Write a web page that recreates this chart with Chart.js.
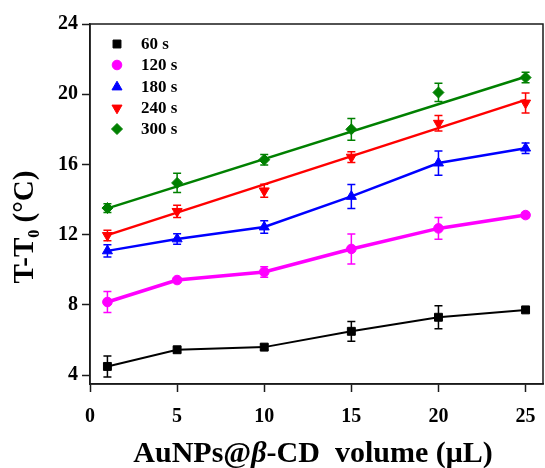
<!DOCTYPE html>
<html>
<head>
<meta charset="utf-8">
<script src="https://cdn.jsdelivr.net/npm/chart.js@4.4.1/dist/chart.umd.min.js"></script>
<style>
  html, body { margin: 0; padding: 0; background: #fff; }
  #wrap { width: 545px; height: 468px; position: relative; }
</style>
</head>
<body>
<div id="wrap"><canvas id="myChart"></canvas></div>
<script>
// AuNPs@b-CD volume (uL)
const volumes = [1, 5, 10, 15, 20, 25];
const seriesNames = ['60 s', '120 s', '180 s', '240 s', '300 s'];

// T - T0 (C) for each irradiation time
const temp60  = [4.50, 5.45, 5.60, 6.50, 7.30, 7.72];
const temp120 = [8.17, 9.42, 9.88, 11.19, 12.36, 13.12];
const temp180 = [11.08, 11.76, 12.44, 14.18, 16.08, 16.93];
const temp240 = [11.96, 13.33, 14.50, 16.42, 18.35, 19.50];
const temp300 = [13.52, 14.95, 16.27, 18.00, 20.10, 20.95];

// error bars (+/-)
const err60  = [0.60, 0.15, 0.15, 0.56, 0.65, 0.12];
const err120 = [0.60, 0.12, 0.30, 0.85, 0.62, 0.15];
const err180 = [0.35, 0.30, 0.35, 0.68, 0.69, 0.30];
const err240 = [0.30, 0.35, 0.37, 0.30, 0.44, 0.57];
const err300 = [0.25, 0.55, 0.30, 0.62, 0.52, 0.30];

// straight fitted lines drawn for 240 s and 300 s
const fitX   = [1, 25];
const fit240 = [11.98, 19.68];
const fit300 = [13.50, 21.00];

const xTicks = [0, 5, 10, 15, 20, 25];
const yTicks = [4, 8, 12, 16, 20, 24];

const serif = "'Liberation Serif', 'Times New Roman', serif";
const axisColor = '#1a1a1a';

function pts(xs, ys) {
    return xs.map((x, i) => ({ x: x, y: ys[i] }));
}

let datasets = [
    { label: seriesNames[0], data: pts(volumes, temp60), errors: err60, color: '#000000',
      pointStyle: 'rect', pointRadius: 5.6, borderWidth: 2, showLine: true, legendRow: 0 },
    { label: seriesNames[1], data: pts(volumes, temp120), errors: err120, color: '#ff00ff',
      pointStyle: 'circle', pointRadius: 4.8, borderWidth: 3.5, showLine: true, legendRow: 1 },
    { label: seriesNames[2], data: pts(volumes, temp180), errors: err180, color: '#0000ff',
      pointStyle: 'triangle', pointRadius: 5.8, borderWidth: 2.5, showLine: true, legendRow: 2 },
    { label: seriesNames[3], data: pts(volumes, temp240), errors: err240, color: '#ff0000',
      pointStyle: 'triangle', pointRotation: 180, pointRadius: 5.8, borderWidth: 2.5, showLine: false, legendRow: 3 },
    { label: seriesNames[4], data: pts(volumes, temp300), errors: err300, color: '#008000',
      pointStyle: 'rectRot', pointRadius: 5.5, borderWidth: 2.5, showLine: false, legendRow: 4 },
    { label: 'fit 240', data: pts(fitX, fit240), color: '#ff0000', pointRadius: 0, borderWidth: 2.5, showLine: true },
    { label: 'fit 300', data: pts(fitX, fit300), color: '#008000', pointRadius: 0, borderWidth: 2.5, showLine: true }
];

datasets = datasets.map(d => Object.assign(d, {
    borderColor: d.color,
    backgroundColor: d.color,
    pointBackgroundColor: d.color,
    pointBorderColor: d.color,
    pointBorderWidth: 1,
    pointHoverRadius: d.pointRadius,
    pointRotation: d.pointRotation || 0,
    tension: 0,
    clip: false
}));

// error bars, drawn with the chart's own scales
const errorBars = {
    id: 'errorBars',
    afterDatasetsDraw(chart) {
        const ctx = chart.ctx;
        const xs = chart.scales.x, ys = chart.scales.y;
        chart.data.datasets.forEach(ds => {
            if (!ds.errors) return;
            ctx.save();
            ctx.strokeStyle = ds.color;
            ctx.lineWidth = 1.5;
            ds.data.forEach((p, j) => {
                const e = ds.errors[j];
                const px = xs.getPixelForValue(p.x);
                const top = ys.getPixelForValue(p.y + e);
                const bot = ys.getPixelForValue(p.y - e);
                ctx.beginPath();
                ctx.moveTo(px, top); ctx.lineTo(px, bot);
                ctx.moveTo(px - 4, top); ctx.lineTo(px + 4, top);
                ctx.moveTo(px - 4, bot); ctx.lineTo(px + 4, bot);
                ctx.stroke();
            });
            ctx.restore();
        });
    }
};

// frame round the plot, legend inside, axis titles
const decorations = {
    id: 'decorations',
    beforeDatasetsDraw(chart) {
        const a = chart.chartArea, ctx = chart.ctx;
        ctx.save();
        ctx.strokeStyle = axisColor;
        ctx.lineWidth = 1.5;
        ctx.strokeRect(a.left, a.top, a.right - a.left, a.bottom - a.top);
        ctx.restore();
    },
    afterDraw(chart) {
        const ctx = chart.ctx;
        ctx.save();
        // legend
        const rows = [44, 65, 87, 108, 129];
        chart.data.datasets.forEach(ds => {
            if (ds.legendRow === undefined) return;
            const y = rows[ds.legendRow];
            ctx.fillStyle = ds.color;
            ctx.strokeStyle = ds.color;
            ctx.lineWidth = 1;
            Chart.helpers.drawPoint(ctx, {
                pointStyle: ds.pointStyle,
                radius: ds.pointRadius,
                rotation: ds.pointRotation || 0,
                borderWidth: 1
            }, 117, y);
            ctx.fillStyle = '#000';
            ctx.font = 'bold 17px ' + serif;
            ctx.textBaseline = 'middle';
            ctx.textAlign = 'left';
            ctx.fillText(ds.label, 141, y + 1);
        });

        // x title with italic beta
        ctx.fillStyle = '#000';
        ctx.textBaseline = 'alphabetic';
        ctx.textAlign = 'left';
        const parts = [
            ['AuNPs@', 'bold 30px '],
            ['\u03B2', 'italic bold 30px '],
            ['-CD  volume (\u03BCL)', 'bold 30px ']
        ];
        let total = 0;
        parts.forEach(p => { ctx.font = p[1] + serif; total += ctx.measureText(p[0]).width; });
        let x = 313 - total / 2;
        parts.forEach(p => {
            ctx.font = p[1] + serif;
            ctx.fillText(p[0], x, 462);
            x += ctx.measureText(p[0]).width;
        });

        // y title, rotated, with subscript 0
        ctx.translate(33, 227);
        ctx.rotate(-Math.PI / 2);
        const ySegs = [
            ['T-T', 'bold 29px ', 0],
            ['0', 'bold 16px ', 6],
            [' (\u00B0C)', 'bold 29px ', 0]
        ];
        total = 0;
        ySegs.forEach(s => { ctx.font = s[1] + serif; total += ctx.measureText(s[0]).width; });
        x = -total / 2;
        ySegs.forEach(s => {
            ctx.font = s[1] + serif;
            ctx.fillText(s[0], x, s[2]);
            x += ctx.measureText(s[0]).width;
        });
        ctx.restore();
    }
};

const tickFont = { family: serif, size: 20, weight: 'bold' };

new Chart(document.getElementById('myChart').getContext('2d'), {
    type: 'line',
    data: { datasets: datasets },
    options: {
        responsive: true,
        maintainAspectRatio: false,
        animation: false,
        events: [],
        layout: { autoPadding: false, padding: { top: 24, right: 2, left: 0, bottom: 0 } },
        plugins: {
            legend: { display: false },
            tooltip: { enabled: false }
        },
        scales: {
            x: {
                type: 'linear',
                min: 0,
                max: 26,
                afterBuildTicks: s => { s.ticks = xTicks.map(v => ({ value: v })); },
                afterFit: s => { s.height = 84; s.paddingLeft = 0; s.paddingRight = 0; },
                ticks: { font: tickFont, color: '#000', padding: 13, maxRotation: 0 },
                grid: { drawOnChartArea: false, drawTicks: true, tickLength: 8, tickWidth: 1.5, tickColor: axisColor },
                border: { display: true, color: axisColor, width: 1.5 }
            },
            y: {
                type: 'linear',
                min: 3.5,
                max: 24,
                afterBuildTicks: s => { s.ticks = yTicks.map(v => ({ value: v })); },
                afterFit: s => { s.width = 90; s.paddingTop = 0; s.paddingBottom = 0; },
                ticks: { font: tickFont, color: '#000', padding: 4 },
                grid: { drawOnChartArea: false, drawTicks: true, tickLength: 8, tickWidth: 1.5, tickColor: axisColor },
                border: { display: true, color: axisColor, width: 1.5 }
            }
        }
    },
    plugins: [errorBars, decorations]
});
</script>
</body>
</html>
